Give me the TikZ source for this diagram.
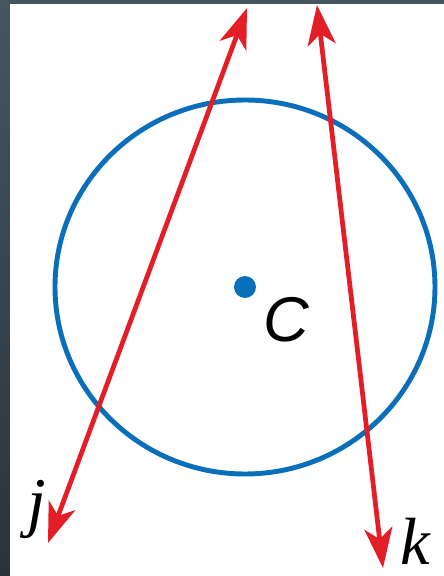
\documentclass[tikz,border=0pt]{standalone}
\usepackage{fontspec}
\setmainfont{Liberation Serif}
\newfontfamily\etqsans{Liberation Sans}
\usepackage{xcolor}
\usepackage{tikz}
\usetikzlibrary{positioning,arrows.meta,calc}
\definecolor{crojo}{HTML}{E41E26}
\definecolor{cazul}{HTML}{0A6FBB}
\definecolor{cborde}{HTML}{46565F}
\definecolor{cbordeb}{HTML}{2A333C}
\tikzset{
  recta/.style={{Stealth[length=8mm, width=5.6mm, inset=2.2mm]}-{Stealth[length=8mm, width=5.6mm, inset=2.2mm]},
    line width=2.7pt, draw=crojo},
  circulo/.style={line width=2.8pt, draw=cazul},
  punto/.style={circle, fill=cazul, inner sep=0pt, minimum size=4.4mm},
  etq/.style={font=\fontsize{38}{38}\selectfont\itshape, inner sep=0pt},
  etqc/.style={font=\etqsans\fontsize{36}{36}\selectfont\itshape, inner sep=0pt},
}

\begin{document}
\begin{tikzpicture}[x=0.2mm, y=0.2mm]
  % fondo y borde
  \fill[white] (0,0) rectangle (444,576);
  \shade[top color=cborde, bottom color=cbordeb] (0,0) rectangle (10,576);
  \fill[cborde] (0,572) rectangle (444,576);
  \useasboundingbox (0,0) rectangle (444,576);
  % circulo
  \node[punto] (c) at (245,289) {};
  \draw[circulo] (c.center) ellipse [x radius=190, y radius=187];
  \node[etqc] (lc) at (286,256) {C};
  % rectas j y k
  \coordinate (j1) at (247,568);
  \coordinate (j2) at (48,33);
  \coordinate (k1) at (317,571);
  \coordinate (k2) at (383,8);
  \draw[recta] (j2) -- (j1);
  \draw[recta] (k2) -- (k1);
  \node[etq, left=1pt of j2, yshift=19pt] (lj) {j};
  \node[etq, right=10pt of k2, yshift=15pt] (lk) {k};
\end{tikzpicture}
\end{document}
